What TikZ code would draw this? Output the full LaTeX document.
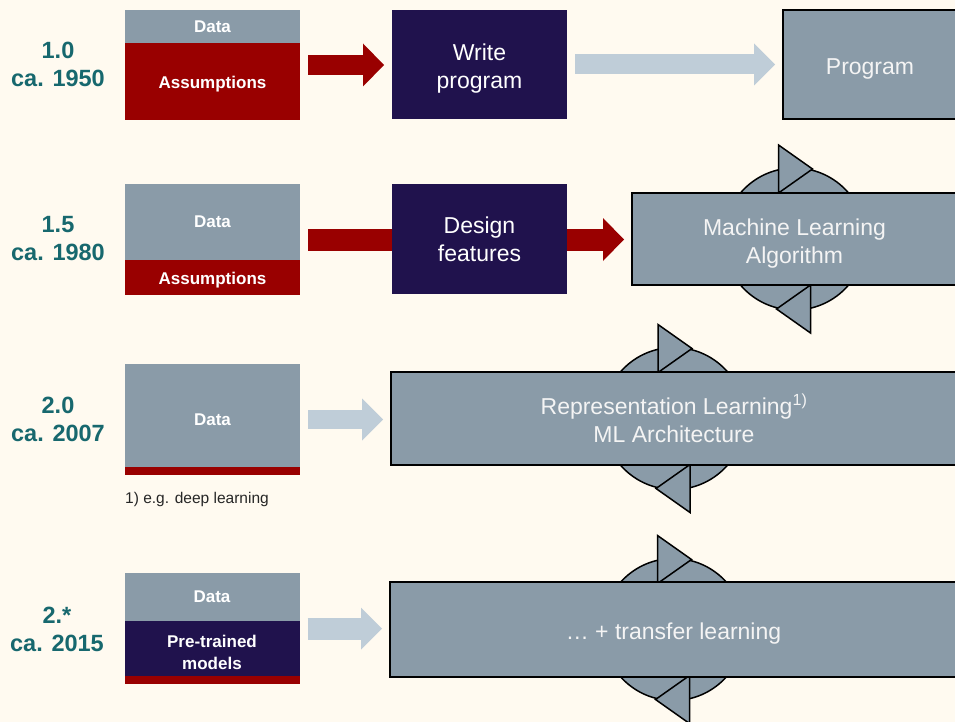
\documentclass[tikz,border=0pt]{standalone}
\usepackage{fontspec}
\setmainfont{Liberation Sans}
\usetikzlibrary{arrows.meta,fit,calc}
\pgfdeclarelayer{back}
\pgfdeclarelayer{bg}
\pgfsetlayers{back,bg,main}
\definecolor{bgc}{HTML}{FFFAF0}
\definecolor{labteal}{HTML}{17686E}
\definecolor{greyc}{HTML}{8A9BA8}
\definecolor{redc}{HTML}{990000}
\definecolor{navyc}{HTML}{20124D}
\definecolor{lightc}{HTML}{BFCDD8}
\definecolor{txtw}{HTML}{F4F4F4}
\newcommand\mycyc[1]{%
  \filldraw[icon] (#1) circle[radius=71pt];
  \filldraw[icon] ($(#1)+(-16,-94)$) -- ++(34,24) -- ++(-34,24) -- cycle;
  \filldraw[icon] ($(#1)+(16,94)$) -- ++(-34,-24) -- ++(34,-24) -- cycle;
}
\newcommand\mystrut{\rule{0pt}{25pt}}
\begin{document}
\begin{tikzpicture}[x=1pt,y=-1pt,
  lab/.style={text=labteal, font=\fontsize{23.5}{28}\selectfont\bfseries, align=center, inner sep=0pt},
  blk/.style={rectangle, inner sep=0pt, outer sep=0pt, minimum width=175pt, align=center},
  datab/.style={blk, fill=greyc, text=white, font=\fontsize{17}{22}\selectfont\bfseries},
  redb/.style={blk, fill=redc, text=white, font=\fontsize{17}{22}\selectfont\bfseries, execute at begin node={\rule{0pt}{18.5pt}}},
  ptb/.style={blk, fill=navyc, text=white, font=\fontsize{17}{22}\selectfont\bfseries},
  navyb/.style={blk, fill=navyc, text=white, font=\fontsize{23}{28}\selectfont},
  outb/.style={rectangle, inner sep=0pt, outer sep=0pt, fill=greyc, draw=black, line width=1.5pt, text=txtw, align=center, font=\fontsize{23}{28}\selectfont},
  icon/.style={fill=greyc, draw=black, line width=1.5pt, line join=miter},
  fatred/.style={draw=redc, line width=#1pt, -{Triangle[length=21pt,width=43pt,line width=0pt]}, shorten <=8pt, shorten >=8pt},
  fatlight/.style={draw=lightc, line width=#1pt, -{Triangle[length=21pt,width=42pt,line width=0pt]}, shorten <=8pt, shorten >=8pt},
]
\begin{pgfonlayer}{back}
\fill[bgc] (0,0) rectangle (955,722);
\end{pgfonlayer}
\useasboundingbox (0,0) rectangle (955,722);

% Row 1
\node[lab] (l1) at (58,64) {1.0\\ca. 1950};
\node[datab, minimum height=33pt] (d1) at (212.5,26.5) {Data};
\node[redb, minimum height=77pt] (a1) at (212.5,81.5) {Assumptions};
\node[fit=(d1)(a1), inner sep=0pt] (s1) {};
\node[navyb, minimum height=109pt] (w1) at (479.5,64.5) {\mystrut Write\\program};
\node[outb, minimum width=174pt, minimum height=109pt] (p1) at (870,64.5) {\rule{0pt}{24pt}Program};

% Row 2
\node[lab] (l2) at (58,239) {1.5\\ca. 1980};
\node[datab, minimum height=76pt] (d2) at (212.5,222) {Data};
\node[redb, minimum height=35pt] (a2) at (212.5,277.5) {Assumptions};
\node[fit=(d2)(a2), inner sep=0pt] (s2) {};
\node[navyb, minimum height=110pt] (f2) at (479.5,239) {Design\\features};
\node[outb, minimum width=325pt, minimum height=92pt] (ml2) at (794.5,239) {\mystrut Machine Learning\\Algorithm};

% Row 3
\node[lab] (l3) at (58,419.5) {2.0\\ca. 2007};
\node[datab, minimum height=111pt] (d3) at (212.5,419.5) {Data};
\node[blk, fill=redc, minimum height=8pt] (r3) at (212.5,471) {};
\node[anchor=west, inner sep=0pt, text=black!85, font=\fontsize{15.5}{18}\selectfont] (fn) at (125,499) {1) e.g. deep learning};
\node[outb, minimum width=566pt, minimum height=93pt] (rl3) at (674,418.5) {Representation Learning\textsuperscript{1)}\\ML Architecture};

% Row 4
\node[lab] (l4) at (57,629) {2.*\\ca. 2015};
\node[datab, minimum height=48pt] (d4) at (212,597) {Data};
\node[ptb, minimum height=63pt] (pt4) at (212,652.5) {Pre-trained\\models};
\node[blk, fill=redc, minimum height=8pt] (r4) at (212,680) {};
\node[fit=(d4)(r4), inner sep=0pt] (s4) {};
\node[outb, minimum width=567pt, minimum height=95pt] (tl4) at (673.5,629.5) {\rule{0pt}{24pt}… + transfer learning};

\begin{pgfonlayer}{bg}
  \draw[fatred=20] (s1.east) -- (s1.east -| w1.west);
  \draw[fatlight=20] (w1.east) -- (w1.east -| p1.west);
  \draw[fatred=22] (s2.east) -- (s2.east -| ml2.west);
  \draw[fatlight=19] (d3.east) -- (d3.east -| rl3.west);
  \draw[fatlight=22] (s4.east) -- (s4.east -| tl4.west);
  \mycyc{ml2.center}
  \mycyc{rl3.center}
  \mycyc{tl4.center}
\end{pgfonlayer}
\end{tikzpicture}
\end{document}
